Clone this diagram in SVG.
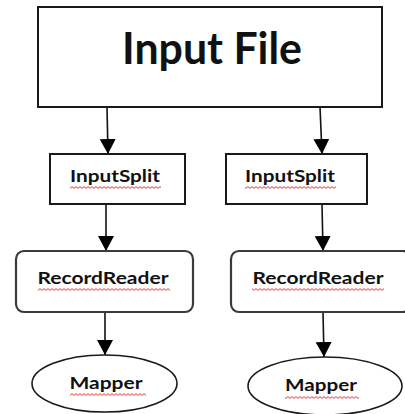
<svg xmlns="http://www.w3.org/2000/svg" width="405" height="414" viewBox="0 0 405 414">
  <style>
    .box { fill: #ffffff; stroke: #1a1a1a; stroke-width: 2; }
    .rr { fill: #ffffff; stroke: #3a3a3a; stroke-width: 2.2; }
    .oval { fill: #ffffff; stroke: #1a1a1a; stroke-width: 1.6; }
    .label { font-family: Lato, "Open Sans", "Liberation Sans", sans-serif; fill: #111111; text-anchor: middle; }
    .big { font-size: 43px; font-weight: bold; }
    .small { font-size: 17px; font-weight: bold; }
    .edge { stroke: #111111; stroke-width: 1.6; fill: none; marker-end: url(#arrow); }
    .spell { fill: url(#squiggle); }
  </style>
  <defs>
    <marker id="arrow" markerUnits="userSpaceOnUse" markerWidth="18" markerHeight="18" refX="15" refY="8" orient="auto">
      <path d="M0,0 L15,8 L0,16 Z" fill="#000000"/>
    </marker>
    <!-- red wavy spell-check underline -->
    <pattern id="squiggle" width="4" height="3" patternUnits="userSpaceOnUse">
      <path d="M0,0.6 L2,2.4 L4,0.6" fill="none" stroke="#e02020" stroke-width="0.9"/>
    </pattern>
  </defs>

  <g id="connectors">
    <path class="edge" d="M107,107 L108,154"/>
    <path class="edge" d="M320,107 L322,154"/>
    <path class="edge" d="M106,204 L106,251"/>
    <path class="edge" d="M322,204 L323,251"/>
    <path class="edge" d="M105,312 L105,355"/>
    <path class="edge" d="M323,312 L324,357"/>
  </g>

  <g id="input-file">
    <rect class="box" x="38" y="7" width="344" height="100"/>
    <text class="label big" x="212" y="64" textLength="180" lengthAdjust="spacingAndGlyphs">Input File</text>
  </g>

  <g id="split-1">
    <rect class="box" x="50" y="154" width="135" height="50"/>
    <text class="label small" x="115" y="182" textLength="90" lengthAdjust="spacingAndGlyphs">InputSplit</text>
    <rect class="spell" x="70" y="186" width="91" height="3"/>
  </g>

  <g id="split-2">
    <rect class="box" x="226" y="154" width="141" height="50"/>
    <text class="label small" x="290" y="182" textLength="90" lengthAdjust="spacingAndGlyphs">InputSplit</text>
    <rect class="spell" x="245" y="186" width="91" height="3"/>
  </g>

  <g id="reader-1">
    <rect class="rr" x="16" y="251" width="177" height="61" rx="8" ry="8"/>
    <text class="label small" x="103" y="284" textLength="131" lengthAdjust="spacingAndGlyphs">RecordReader</text>
    <rect class="spell" x="38" y="288" width="132" height="3"/>
  </g>

  <g id="reader-2">
    <rect class="rr" x="231" y="251" width="180" height="61" rx="8" ry="8"/>
    <text class="label small" x="318" y="284" textLength="131" lengthAdjust="spacingAndGlyphs">RecordReader</text>
    <rect class="spell" x="252" y="288" width="132" height="3"/>
  </g>

  <g id="mapper-1">
    <ellipse class="oval" cx="104.5" cy="383.5" rx="72.5" ry="28.5"/>
    <text class="label small" x="106" y="389" textLength="73" lengthAdjust="spacingAndGlyphs">Mapper</text>
    <rect class="spell" x="70" y="393" width="76" height="3"/>
  </g>

  <g id="mapper-2">
    <ellipse class="oval" cx="325" cy="386" rx="77" ry="29"/>
    <text class="label small" x="321" y="391" textLength="72" lengthAdjust="spacingAndGlyphs">Mapper</text>
    <rect class="spell" x="285" y="396" width="74" height="3"/>
  </g>
</svg>
